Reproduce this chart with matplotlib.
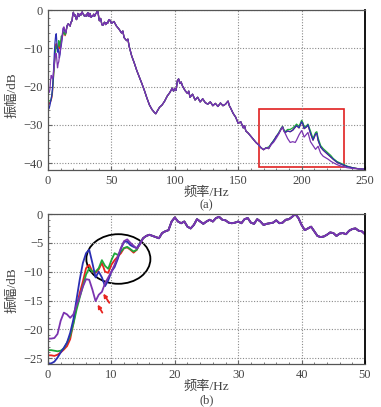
import matplotlib
matplotlib.use("Agg")
import matplotlib.pyplot as plt
from matplotlib.patches import Ellipse, Rectangle

plt.rcParams['font.family'] = ['Liberation Serif', 'Noto Sans CJK SC', 'DejaVu Sans']

# Low-frequency band (0-15 Hz), where the four traces differ
freq_low = [0, 0.5, 1, 1.5, 2, 2.5, 3, 3.5, 4, 4.5, 5, 5.5, 6, 6.5, 7, 7.5,
            8, 8.5, 9, 9.5, 10, 10.5, 11, 11.5, 12, 12.5, 13, 13.5, 14, 14.5, 15]
red_low = [-24.5, -24.5, -24.6, -24.4, -24.0, -23.5, -22.9, -21.7, -18.9, -16.0,
           -13.7, -11.7, -9.4, -8.8, -10.0, -10.2, -9.6, -8.5, -10.0, -10.2,
           -8.8, -8.0, -7.4, -6.8, -5.9, -5.8, -6.2, -6.7, -6.2, -5.1, -4.2]
green_low = [-23.6, -23.6, -23.7, -23.8, -23.7, -23.3, -22.3, -21.1, -19.1, -16.6,
             -14.5, -12.5, -10.5, -9.4, -10.0, -10.0, -9.4, -8.0, -9.0, -9.5,
             -8.0, -6.8, -7.1, -6.5, -5.9, -5.7, -6.1, -6.5, -6.2, -5.1, -4.2]
blue_low = [-25.9, -25.9, -25.6, -24.9, -24.0, -23.2, -22.3, -20.6, -18.3, -14.8,
            -11.4, -8.5, -6.8, -6.2, -8.5, -11.0, -10.0, -11.0, -12.5, -11.5,
            -10.0, -9.2, -7.8, -6.0, -4.8, -4.8, -5.4, -5.7, -5.9, -5.1, -4.2]
purple_low = [-21.6, -21.6, -21.5, -20.8, -18.5, -17.1, -17.4, -18.0, -17.4, -15.8,
              -14.3, -12.6, -11.3, -11.4, -13.1, -15.1, -14.0, -13.5, -12.0, -11.0,
              -10.0, -8.8, -7.4, -5.9, -4.7, -4.4, -5.0, -5.5, -6.0, -5.3, -4.2]

# 15.5-50 Hz, shared by all traces
freq_mid = [15.5, 16, 16.5, 17, 17.5, 18, 18.5, 19, 19.5, 20, 20.5, 21, 21.5, 22,
            22.5, 23, 23.5, 24, 24.5, 25, 25.5, 26, 26.5, 27, 27.5, 28, 28.5, 29,
            29.5, 30, 30.5, 31, 31.5, 32, 32.5, 33, 33.5, 34, 34.5, 35, 35.5, 36,
            36.5, 37, 37.5, 38, 38.5, 39, 39.5, 40, 40.5, 41, 41.5, 42, 42.5, 43,
            43.5, 44, 44.5, 45, 45.5, 46, 46.5, 47, 47.5, 48, 48.5, 49, 49.5, 50]
amp_mid = [-3.8, -3.6, -3.8, -4.0, -4.2, -3.3, -3.0, -2.8, -1.3, -0.6, -1.3, -1.6,
           -1.3, -2.2, -2.5, -1.9, -0.9, -1.3, -1.7, -1.3, -1.0, -1.3, -0.7, -0.5,
           -1.0, -1.1, -1.5, -1.6, -1.5, -1.3, -1.6, -0.9, -0.7, -1.5, -1.7, -0.9,
           -1.3, -1.9, -1.7, -1.6, -1.5, -1.1, -1.6, -1.5, -1.0, -0.9, -0.5, 0.0,
           -0.7, -1.9, -2.8, -2.5, -2.2, -3.0, -3.8, -4.0, -3.9, -3.6, -3.2, -3.3,
           -3.8, -3.4, -3.3, -3.5, -2.9, -2.6, -2.5, -2.9, -3.0, -3.5]

# 52-168 Hz, shared by all traces (panel a only)
freq_tail = [52, 54, 56, 58, 59, 60, 62, 63, 64, 66, 68, 70, 72, 74, 76, 78, 80, 82,
             84, 85, 86, 88, 90, 92, 94, 96, 98, 99, 100, 101, 102, 103, 104, 105,
             106, 108, 110, 111, 112, 114, 116, 118, 120, 122, 124, 126, 128, 130,
             132, 134, 136, 138, 140, 142, 143, 144, 146, 148, 150, 152, 154, 155,
             156, 158, 160, 162, 164, 166, 168]
amp_tail = [-3.0, -4.2, -5.0, -6.0, -5.5, -7.2, -8.0, -7.6, -9.5, -12.0, -13.8,
            -15.8, -17.5, -19.2, -21.0, -23.0, -24.8, -26.0, -26.8, -27.1, -26.5,
            -25.4, -24.8, -23.8, -22.5, -21.6, -20.4, -21.2, -20.5, -21.0, -18.5,
            -18.0, -19.2, -18.8, -19.8, -21.0, -21.8, -21.2, -22.8, -22.0, -23.5,
            -22.8, -24.0, -23.2, -24.2, -24.6, -24.0, -25.0, -24.4, -25.2, -24.3,
            -25.0, -24.6, -23.8, -25.0, -25.6, -27.0, -28.0, -29.6, -29.2, -30.8,
            -30.2, -31.6, -32.2, -33.0, -33.8, -34.6, -35.2, -36.0]

# 170-250 Hz (red box region of panel a)
freq_box = [170, 172, 174, 176, 178, 180, 182, 184, 185, 186, 187, 189, 191, 193,
            195, 196, 198, 200, 201, 202, 204, 205, 207, 209, 211, 212, 213, 215,
            217, 219, 221, 223, 225, 228, 232, 236, 240, 245, 250]
box_rb = [-36.5, -36.0, -36.2, -35.0, -34.2, -33.0, -32.2, -31.0, -30.5, -31.5,
          -32.0, -31.6, -31.8, -31.4, -30.6, -30.2, -30.8, -29.2, -29.8, -31.0,
          -30.5, -30.0, -32.2, -34.0, -32.4, -32.2, -34.0, -35.8, -36.6, -37.2,
          -37.8, -38.4, -39.0, -39.8, -40.4, -40.9, -41.2, -41.5, -41.6]
box_green = [-36.4, -36.0, -35.8, -35.0, -34.0, -33.2, -32.0, -30.8, -30.4, -31.2,
             -31.8, -31.2, -31.2, -30.8, -30.2, -29.8, -30.4, -28.8, -29.4, -30.6,
             -30.2, -29.8, -31.6, -33.6, -32.0, -31.8, -33.4, -35.4, -36.2, -36.8,
             -37.4, -38.0, -38.8, -39.6, -40.2, -40.8, -41.2, -41.5, -41.6]
box_purple = [-36.5, -36.0, -36.2, -35.2, -34.5, -33.5, -32.4, -31.0, -30.6, -31.6,
              -32.2, -33.6, -34.6, -34.4, -34.6, -34.0, -32.6, -31.5, -32.2, -33.2,
              -32.4, -32.0, -34.4, -35.4, -36.4, -36.0, -35.6, -37.4, -38.2, -38.6,
              -39.0, -39.5, -39.9, -40.4, -40.9, -41.2, -41.4, -41.5, -41.6]

colors = {'red': '#e8231f', 'green': '#1fa83a', 'blue': '#2b2fb4', 'purple': '#7b34b0'}
low = {'red': red_low, 'green': green_low, 'blue': blue_low, 'purple': purple_low}
box = {'red': box_rb, 'green': box_green, 'blue': box_rb, 'purple': box_purple}

fig = plt.figure(figsize=(3.81, 4.07), dpi=100)
ax_a = fig.add_axes([0.126, 0.5823, 0.832, 0.3931])
ax_b = fig.add_axes([0.126, 0.1057, 0.832, 0.3685])

for name in ['red', 'green', 'blue', 'purple']:
    fb = freq_low + freq_mid
    ab = low[name] + amp_mid
    ax_a.plot(fb + freq_tail + freq_box, ab + amp_tail + box[name],
              color=colors[name], lw=0.9)
    ax_b.plot(fb, ab, color=colors[name], lw=1.3)

ax_a.set_xlim(0, 250)
ax_a.set_ylim(-41.8, 0)
ax_a.set_xticks([0, 50, 100, 150, 200, 250])
ax_a.set_yticks([0, -10, -20, -30, -40])
ax_a.add_patch(Rectangle((166.6, -40.9), 66.6, 15.0, fill=False,
                         edgecolor='#e02020', lw=1.2))

ax_b.set_xlim(0, 50)
ax_b.set_ylim(-26, 0)
ax_b.set_xticks([0, 10, 20, 30, 40, 50])
ax_b.set_yticks([0, -5, -10, -15, -20, -25])
ax_b.add_patch(Ellipse((11.1, -7.8), 10.1, 8.6, fill=False, edgecolor='black', lw=1.3))
# two small red arrows pointing at the dips
arrow_style = dict(arrowstyle='-|>', color='#e8231f', lw=1.3, mutation_scale=5,
                   shrinkA=0, shrinkB=0)
ax_b.annotate('', xy=(8.72, -13.8), xytext=(9.67, -15.4), arrowprops=arrow_style)
ax_b.annotate('', xy=(7.83, -15.7), xytext=(8.57, -17.1), arrowprops=arrow_style)

for ax in (ax_a, ax_b):
    ax.grid(True, color='#8a8a8a', linestyle=(0, (1, 1.5)), lw=0.8)
    ax.minorticks_on()
    ax.tick_params(which='both', direction='in', labelsize=9, labelcolor='#444444',
                   color='#666666')
    ax.tick_params(which='major', length=3)
    ax.tick_params(which='minor', length=1.5)
    for side in ['left', 'bottom', 'top']:
        ax.spines[side].set_color('#555555')
        ax.spines[side].set_linewidth(0.9)
    ax.spines['right'].set_color('black')
    ax.spines['right'].set_linewidth(1.3)

fig.text(0.032, 1 - 95 / 407, '振幅/dB', rotation=90, ha='center', va='center',
         fontsize=9.5, color='#444444')
fig.text(0.032, 1 - 290 / 407, '振幅/dB', rotation=90, ha='center', va='center',
         fontsize=9.5, color='#444444')
fig.text(0.542, 1 - 193 / 407, '频率/Hz', ha='center', va='center', fontsize=9.5,
         color='#444444')
fig.text(0.542, 1 - 205 / 407, '(a)', ha='center', va='center', fontsize=9,
         color='#444444')
fig.text(0.542, 1 - 387 / 407, '频率/Hz', ha='center', va='center', fontsize=9.5,
         color='#444444')
fig.text(0.542, 1 - 400 / 407, '(b)', ha='center', va='center', fontsize=9,
         color='#444444')

fig.savefig('out.png', dpi=100)
